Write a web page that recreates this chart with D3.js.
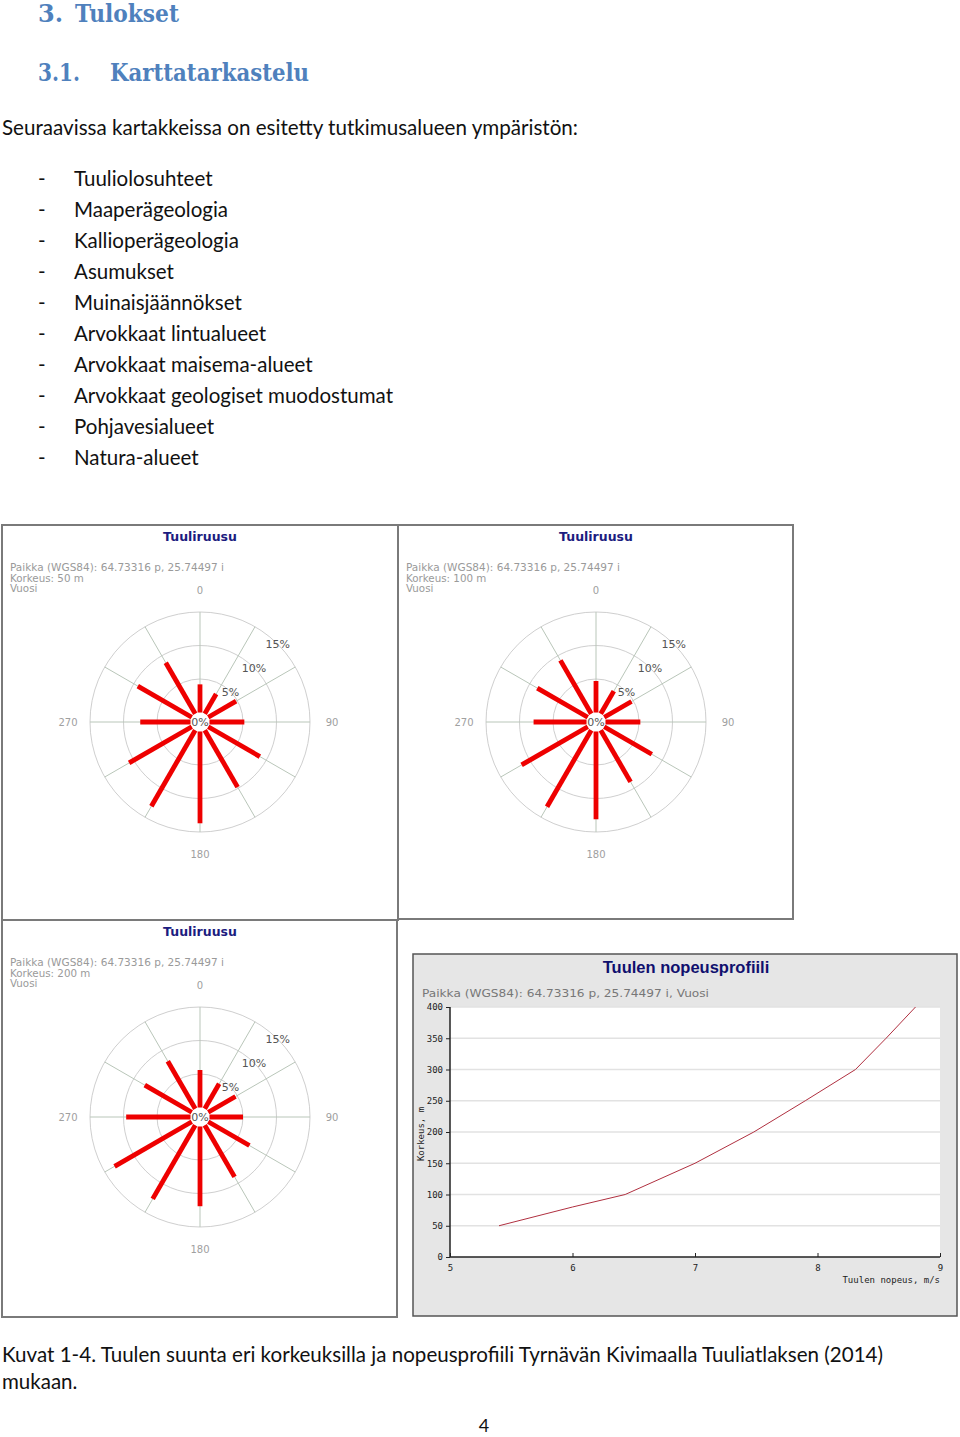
<!DOCTYPE html>
<html><head><meta charset="utf-8">
<script src="https://cdn.jsdelivr.net/npm/d3@7/dist/d3.min.js"></script>
<style>body{margin:0;background:#fff}svg{display:block}</style>
</head><body>
<svg id="page" width="960" height="1437"></svg>
<script>
// ---------- data ----------
const listItems = ["Tuuliolosuhteet","Maaperägeologia","Kallioperägeologia","Asumukset","Muinaisjäännökset","Arvokkaat lintualueet","Arvokkaat maisema-alueet","Arvokkaat geologiset muodostumat","Pohjavesialueet","Natura-alueet"];
const directions = [0,30,60,90,120,150,180,210,240,270,300,330];
const rose50  = [4.2,3.4,4.8,5.2,8.9,9.8,13.7,13.1,10.8,7.5,9.3,8.8];
const rose100 = [4.7,3.9,4.7,5.2,8.2,8.9,13.1,13.2,11.4,7.9,8.7,9.2];
const rose200 = [5.6,4.3,4.7,5.0,7.1,8.9,11.9,12.7,13.3,9.6,8.1,8.2];
const roseHeights = [50,100,200];
const ringTicks = [0,5,10,15];
const dirLabels = [0,90,180,270];
const profileSpeed  = [5.40,6.00,6.43,7.00,7.48,7.90,8.31,8.56,8.80];
const profileHeight = [50,80,100,150,200,250,300,350,400];
const yTicks = [0,50,100,150,200,250,300,350,400];
const xTicks = [5,6,7,8,9];

const svg = d3.select("#page");
svg.append("rect").attr("width",960).attr("height",1437).attr("fill","#fff");

// ---------- document text ----------
const headCol = "#4f81bd";
const hfont = "'DejaVu Serif', serif";
function t(x,y,s,o){const e=svg.append("text").attr("x",x).attr("y",y).text(s);for(const k in o)e.attr(k,o[k]);return e;}
t(38,22,"3.",{fill:headCol,"font-family":hfont,"font-weight":"bold","font-size":24});
t(75,22,"Tulokset",{fill:headCol,"font-family":hfont,"font-weight":"bold","font-size":24,textLength:104,lengthAdjust:"spacingAndGlyphs"});
t(38,81,"3.1.",{fill:headCol,"font-family":hfont,"font-weight":"bold","font-size":24,textLength:42,lengthAdjust:"spacingAndGlyphs"});
t(110,81,"Karttatarkastelu",{fill:headCol,"font-family":hfont,"font-weight":"bold","font-size":24,textLength:199,lengthAdjust:"spacingAndGlyphs"});
const bfont = "Lato, 'Open Sans', sans-serif";
const bsize = 20.5;
t(2,135,"Seuraavissa kartakkeissa on esitetty tutkimusalueen ympäristön:",{fill:"#111","font-family":bfont,"font-size":bsize,textLength:576,lengthAdjust:"spacingAndGlyphs"});
listItems.forEach((s,i)=>{
  const y = 186 + i*31;
  t(38,y,"-",{fill:"#111","font-family":bfont,"font-size":bsize});
  t(74,y,s,{fill:"#111","font-family":bfont,"font-size":bsize});
});
t(2,1362,"Kuvat 1-4. Tuulen suunta eri korkeuksilla ja nopeusprofiili Tyrnävän Kivimaalla Tuuliatlaksen (2014)",{fill:"#111","font-family":bfont,"font-size":bsize,textLength:881,lengthAdjust:"spacingAndGlyphs"});
t(2,1389,"mukaan.",{fill:"#111","font-family":bfont,"font-size":bsize});
t(484,1432,"4",{fill:"#111","font-family":bfont,"font-size":18,"text-anchor":"middle"});

// ---------- wind roses ----------
const panels = [
  {x:2,y:525,w:396,h:395,vals:rose50,h_m:roseHeights[0]},
  {x:398,y:525,w:395,h:394,vals:rose100,h_m:roseHeights[1]},
  {x:2,y:920,w:395,h:397,vals:rose200,h_m:roseHeights[2]}
];
const r = d3.scaleLinear().domain([0,15]).range([9.5,110]);
const sfont = "'DejaVu Sans', Verdana, sans-serif";
panels.forEach(p=>{
  const g = svg.append("g").attr("transform",`translate(${p.x},${p.y})`);
  g.append("rect").attr("x",0).attr("y",0).attr("width",p.w).attr("height",p.h)
    .attr("fill","#fff").attr("stroke","#7a7a7a").attr("stroke-width",2);
  g.append("text").attr("x",198).attr("y",16).attr("text-anchor","middle")
    .attr("font-family",sfont).attr("font-weight","bold").attr("font-size",12.5)
    .attr("fill","#1c1c80").text("Tuuliruusu");
  const info=["Paikka (WGS84): 64.73316 p, 25.74497 i",`Korkeus: ${p.h_m} m`,"Vuosi"];
  info.forEach((s,i)=>{
    const e = g.append("text").attr("x",8).attr("y",46+i*10.5)
      .attr("font-family",sfont).attr("font-size",10.3).attr("fill","#9a9a9a").text(s);
    if(i===0) e.attr("textLength",214).attr("lengthAdjust","spacingAndGlyphs");
  });
  const c = g.append("g").attr("transform","translate(198,197)");
  // rings
  c.selectAll("circle.ring").data(ringTicks.slice(1)).join("circle")
    .attr("r",d=>r(d)).attr("fill","none").attr("stroke","#cfcfcf").attr("stroke-width",1);
  // radial grid lines
  c.selectAll("line.grid").data(directions).join("line")
    .attr("x1",d=>Math.sin(d*Math.PI/180)*r(0)).attr("y1",d=>-Math.cos(d*Math.PI/180)*r(0))
    .attr("x2",d=>Math.sin(d*Math.PI/180)*r(15)).attr("y2",d=>-Math.cos(d*Math.PI/180)*r(15))
    .attr("stroke","#b9c6b9").attr("stroke-width",1);
  // bars
  c.selectAll("line.bar").data(directions.map((d,i)=>({d,v:p.vals[i]}))).join("line")
    .attr("x1",o=>Math.sin(o.d*Math.PI/180)*r(0)).attr("y1",o=>-Math.cos(o.d*Math.PI/180)*r(0))
    .attr("x2",o=>Math.sin(o.d*Math.PI/180)*r(o.v)).attr("y2",o=>-Math.cos(o.d*Math.PI/180)*r(o.v))
    .attr("stroke","#ee0000").attr("stroke-width",4.8);
  c.append("circle").attr("r",9).attr("fill","#fff");
  // ring labels at 45deg
  c.selectAll("text.rl").data(ringTicks).join("text")
    .attr("x",d=>d===0?0:Math.SQRT1_2*r(d)).attr("y",d=>(d===0?0:-Math.SQRT1_2*r(d))+4)
    .attr("text-anchor","middle").attr("font-family",sfont).attr("font-size",11)
    .attr("fill","#555").text(d=>d+"%");
  // direction labels
  const lr = 132;
  c.selectAll("text.dl").data(dirLabels).join("text")
    .attr("x",d=>Math.sin(d*Math.PI/180)*lr).attr("y",d=>-Math.cos(d*Math.PI/180)*lr+3.5)
    .attr("text-anchor","middle").attr("font-family",sfont).attr("font-size",10)
    .attr("fill","#a0a0a0").text(d=>d);
});

// ---------- speed profile ----------
const pg = svg.append("g");
pg.append("rect").attr("x",413).attr("y",954).attr("width",544).attr("height",362)
  .attr("fill","#e6e6e6").attr("stroke","#555").attr("stroke-width",1.5);
pg.append("text").attr("x",686).attr("y",973).attr("text-anchor","middle")
  .attr("font-family","'Liberation Sans', Arial, sans-serif").attr("font-weight","bold")
  .attr("font-size",16.5).attr("fill","#10106e").text("Tuulen nopeusprofiili");
pg.append("text").attr("x",422).attr("y",997)
  .attr("font-family",sfont).attr("font-size",11).attr("fill","#777")
  .attr("textLength",287).attr("lengthAdjust","spacingAndGlyphs")
  .text("Paikka (WGS84): 64.73316 p, 25.74497 i, Vuosi");
const x = d3.scaleLinear().domain([5,9]).range([450,940]);
const y = d3.scaleLinear().domain([0,400]).range([1257,1007]);
pg.append("rect").attr("x",x(5)).attr("y",y(400)).attr("width",x(9)-x(5)).attr("height",y(0)-y(400)).attr("fill","#fff");
pg.selectAll("line.hg").data(yTicks.slice(1)).join("line")
  .attr("x1",x(5)).attr("x2",x(9)).attr("y1",d=>y(d)).attr("y2",d=>y(d))
  .attr("stroke","#e2e2e2").attr("stroke-width",1.5);
const mono = "'DejaVu Sans Mono', monospace";
const yAxis = pg.append("g").attr("transform",`translate(${x(5)},0)`)
  .call(d3.axisLeft(y).tickValues(yTicks).tickSize(4).tickPadding(3));
const xAxis = pg.append("g").attr("transform",`translate(0,${y(0)})`)
  .call(d3.axisBottom(x).tickValues(xTicks).tickSize(-4).tickPadding(8).tickFormat(d3.format("d")));
[yAxis,xAxis].forEach(a=>{
  a.select(".domain").attr("stroke","#222").attr("stroke-width",1.5);
  a.selectAll(".tick line").attr("stroke","#222");
  a.selectAll("text").attr("font-family",mono).attr("font-size",9).attr("fill","#222");
});
xAxis.select(".domain").attr("d",`M${x(5)},0H${x(9)}`);
yAxis.select(".domain").attr("d",`M0,${y(0)}V${y(400)}`);
pg.append("text").attr("x",x(9)).attr("y",1283).attr("text-anchor","end")
  .attr("font-family",mono).attr("font-size",9).attr("fill","#222").text("Tuulen nopeus, m/s");
pg.append("text").attr("transform",`translate(424,${(y(0)+y(400))/2+2}) rotate(-90)`)
  .attr("text-anchor","middle").attr("font-family",mono).attr("font-size",9).attr("fill","#222").text("Korkeus, m");
const line = d3.line().x((d,i)=>x(profileSpeed[i])).y((d,i)=>y(profileHeight[i]));
pg.append("path").datum(profileHeight).attr("d",line).attr("fill","none")
  .attr("stroke","#b03040").attr("stroke-width",1);
</script>
</body></html>
